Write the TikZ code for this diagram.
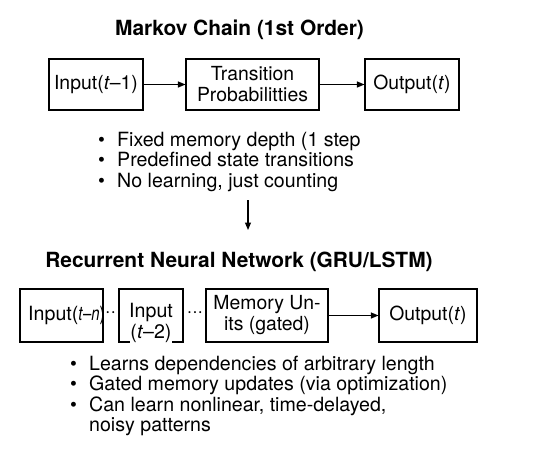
\documentclass[tikz,border=0pt]{standalone}
\usepackage{fontspec}
\usepackage{graphicx}
\setmainfont{TeX Gyre Heros}
\usetikzlibrary{arrows.meta}
\tikzset{
  box/.style={draw, line width=1.1pt, minimum height=51pt, inner sep=0pt, align=center,
    font=\fontsize{19.4}{21}\selectfont},
  txt/.style={inner sep=0pt, font=\fontsize{19.6}{20.5}\selectfont, align=left},
  ttl/.style={inner sep=0pt, font=\fontsize{20.9}{22}\selectfont\bfseries},
  conn/.style={line width=1.1pt, -{Triangle[length=7.5pt,width=6pt]}},
}
\newcommand{\bul}{\makebox[19pt][l]{\textbullet}}
\begin{document}
\begin{tikzpicture}[x=1pt,y=-1pt]
\useasboundingbox (0,0) rectangle (534,468);
% Markov chain
\node[ttl] (t1) at (239.5,30) {Markov Chain (1st Order)};
\node[box, minimum width=94pt] (in1) at (96,84.5) {Input(\textit{t}–1)};
\node[box, minimum width=133pt] (tp) at (252.5,84.5) {Transition\\Probabilitties};
\node[box, minimum width=94pt] (out1) at (412,84.5) {Output(\textit{t})};
\draw[conn] (in1) -- (tp);
\draw[conn] (tp) -- (out1);
\node[txt, anchor=west] (b1) at (98,161.5) {\bul Fixed memory depth (1 step\\\bul Predefined state transitions\\\bul No learning, just counting};
\coordinate (a1) at (248,200);
\coordinate (a2) at (248,230);
\draw[conn] (a1) -- (a2);
% RNN
\node[ttl] (t2) at (239,262) {Recurrent Neural Network (GRU/LSTM)};
\node[box, minimum width=83pt, minimum height=53pt] (ia) at (61.5,315.5) {};
\node[txt, anchor=west] (iat) at (28,315.5) {Input(\scalebox{0.76}[1]{\textit{t}–\textit{n})}};
\node[txt] (d1) at (110.5,314.5) {··};
\node[box, minimum width=64pt, minimum height=53pt] (ib) at (151,315.5) {};
\node[txt] (ibt) at (151,312) {Input};
\node[txt, fill=white, inner sep=0.5pt] (ibt2) at (151,333) {(\textit{t}–2)};
\node[txt] (d2) at (195,314.5) {···};
\node[box, minimum width=122pt, minimum height=53pt] (mu) at (267,315.5) {Memory Un-\\its (gated)};
\node[box, minimum width=98pt, minimum height=53pt] (out2) at (428,315.5) {Output(\textit{t})};
\draw[conn] (mu) -- (out2);
\node[txt, anchor=west] (b2) at (70,396) {\bul Learns dependencies of arbitrary length\\\bul Gated memory updates (via optimization)\\\bul Can learn nonlinear, time-delayed,\\\hspace*{19pt}noisy patterns};
\end{tikzpicture}
\end{document}
